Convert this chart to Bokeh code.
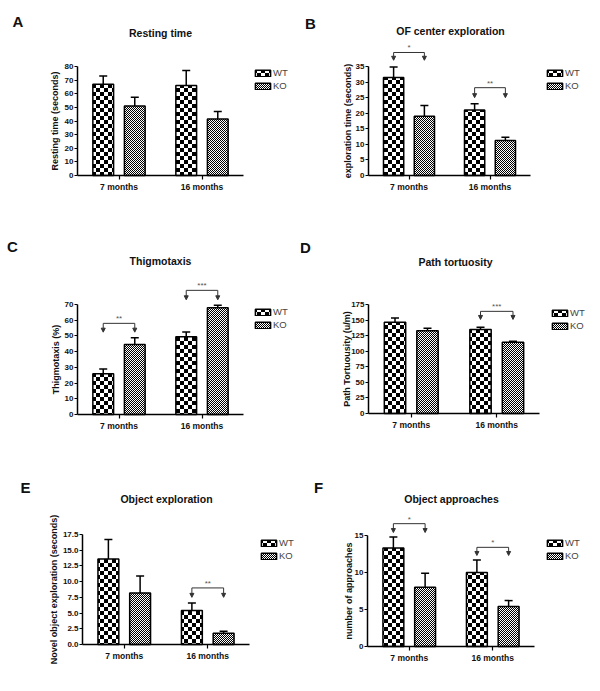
import math, zlib, struct, base64
from bokeh.plotting import figure
from bokeh.layouts import gridplot
from bokeh.models import (ColumnDataSource, Range1d, FixedTicker, SingleIntervalTicker,
                          Whisker, TeeHead, Arrow, NormalHead, Label, Legend, LegendItem,
                          ImageURLTexture, NumeralTickFormatter)
from bokeh.embed import file_html
from bokeh.resources import INLINE
from bokeh.core.properties import value

# ---------------- data ----------------
categories = ["7 months", "16 months"]
genotypes = ["WT", "KO"]

a_wt = [67, 66]
a_wt_err = [6, 11]
a_ko = [51, 41.5]
a_ko_err = [6.5, 5.5]

b_wt = [31.5, 21]
b_wt_err = [3.3, 2]
b_ko = [19, 11.2]
b_ko_err = [3.5, 1.1]
b_sig_cat = [0, 1]
b_sig_text = ["*", "**"]
b_sig_bracket = [39.5, 28.2]
b_sig_tip = [37, 25]

c_wt = [26, 49.5]
c_wt_err = [3, 3]
c_ko = [44.5, 68]
c_ko_err = [4.3, 1.5]
c_sig_cat = [0, 1]
c_sig_text = ["**", "***"]
c_sig_bracket = [58, 79]
c_sig_tip = [52.4, 73]

d_wt = [146.5, 135]
d_wt_err = [7, 3.5]
d_ko = [133, 114.5]
d_ko_err = [4, 1.5]
d_sig_cat = [1]
d_sig_text = ["***"]
d_sig_bracket = [164]
d_sig_tip = [151]

e_wt = [13.6, 5.4]
e_wt_err = [3.1, 1.2]
e_ko = [8.2, 1.8]
e_ko_err = [2.7, 0.3]
e_sig_cat = [1]
e_sig_text = ["**"]
e_sig_bracket = [9]
e_sig_tip = [7.5]

f_wt = [13.3, 10]
f_wt_err = [1.5, 1.7]
f_ko = [8, 5.4]
f_ko_err = [1.9, 0.8]
f_sig_cat = [0, 1]
f_sig_text = ["*", "*"]
f_sig_bracket = [16.6, 13.4]
f_sig_tip = [15.4, 12.3]

# ---------------- layout (page pixel positions) ----------------
col_x = [0, 300]
row_y = [0, 225, 455]
col_w = [300, 300]
row_h = [225, 230, 230]

FONT = "Liberation Sans"


def checker_url(cell, n=2):
    """Small PNG checkerboard used as the bar fill texture."""
    size = cell * n
    raw = b""
    for r in range(size):
        raw += b"\x00"
        for c in range(size):
            black = ((r // cell) + (c // cell)) % 2 == 0
            raw += bytes((0, 0, 0, 255)) if black else bytes((255, 255, 255, 255))

    def chunk(t, d):
        return struct.pack(">I", len(d)) + t + d + struct.pack(">I", zlib.crc32(t + d) & 0xffffffff)

    png = (b"\x89PNG\r\n\x1a\n" + chunk(b"IHDR", struct.pack(">IIBBBBB", size, size, 8, 6, 0, 0, 0))
           + chunk(b"IDAT", zlib.compress(raw)) + chunk(b"IEND", b""))
    return "data:image/png;base64," + base64.b64encode(png).decode()


wt_img = ImageURLTexture(url=checker_url(4))
ko_img = ImageURLTexture(url=checker_url(1))

panels = [
    dict(letter="A", title="Resting time", ylabel="Resting time (seconds)",
         wt=a_wt, wt_err=a_wt_err, ko=a_ko, ko_err=a_ko_err, sig=None,
         ymax=80, ystep=10, fmt="0",
         col=0, row=0, axl=77, axr=243, bottom=175, top=66,
         letter_pos=(17.5, 20.5), title_pos=(160, 32), ylabel_x=54, legend_pos=(253, 72)),
    dict(letter="B", title="OF center exploration", ylabel="exploration time (seconds)",
         wt=b_wt, wt_err=b_wt_err, ko=b_ko, ko_err=b_ko_err,
         sig=(b_sig_cat, b_sig_text, b_sig_bracket, b_sig_tip),
         ymax=35, ystep=5, fmt="0",
         col=1, row=0, axl=368, axr=530, bottom=175, top=66,
         letter_pos=(310, 23), title_pos=(450, 30), ylabel_x=347, legend_pos=(545, 72)),
    dict(letter="C", title="Thigmotaxis", ylabel="Thigmotaxis (%)",
         wt=c_wt, wt_err=c_wt_err, ko=c_ko, ko_err=c_ko_err,
         sig=(c_sig_cat, c_sig_text, c_sig_bracket, c_sig_tip),
         ymax=70, ystep=10, fmt="0",
         col=0, row=1, axl=77, axr=243, bottom=414, top=304,
         letter_pos=(12, 246), title_pos=(160, 260), ylabel_x=55, legend_pos=(253, 311)),
    dict(letter="D", title="Path tortuosity", ylabel="Path Tortuousity (u/m)",
         wt=d_wt, wt_err=d_wt_err, ko=d_ko, ko_err=d_ko_err,
         sig=(d_sig_cat, d_sig_text, d_sig_bracket, d_sig_tip),
         ymax=175, ystep=25, fmt="0",
         col=1, row=1, axl=368, axr=539, bottom=413, top=304,
         letter_pos=(305, 247), title_pos=(455, 261), ylabel_x=346, legend_pos=(550, 312)),
    dict(letter="E", title="Object exploration", ylabel="Novel object exploration (seconds)",
         wt=e_wt, wt_err=e_wt_err, ko=e_ko, ko_err=e_ko_err,
         sig=(e_sig_cat, e_sig_text, e_sig_bracket, e_sig_tip),
         ymax=17.5, ystep=2.5, fmt="0.0",
         col=0, row=2, axl=82, axr=249, bottom=644, top=534,
         letter_pos=(25, 487), title_pos=(166, 498), ylabel_x=53, legend_pos=(259, 542)),
    dict(letter="F", title="Object approaches", ylabel="number of approaches",
         wt=f_wt, wt_err=f_wt_err, ko=f_ko, ko_err=f_ko_err,
         sig=(f_sig_cat, f_sig_text, f_sig_bracket, f_sig_tip),
         ymax=15, ystep=5, fmt="0",
         col=1, row=2, axl=367, axr=534, bottom=646, top=535,
         letter_pos=(318, 487), title_pos=(451, 498), ylabel_x=348, legend_pos=(545, 542)),
]

OFFSET = 0.19
BAR_W = 0.25


def make_panel(P):
    ox, oy = col_x[P["col"]], row_y[P["row"]]
    W, H = col_w[P["col"]], row_h[P["row"]]
    ppx = (P["axr"] - P["axl"]) / 2.0
    ppy = (P["bottom"] - P["top"]) / P["ymax"]

    def gx(px):
        return 0.5 + (px - P["axl"]) / ppx

    def gy(py):
        return (P["bottom"] - py) / ppy

    p = figure(width=W, height=H, output_backend="svg", toolbar_location=None,
               x_range=Range1d(gx(ox), gx(ox + W)), y_range=Range1d(gy(oy + H), gy(oy)),
               min_border=0)
    p.outline_line_color = None
    p.grid.visible = False
    p.background_fill_color = "white"
    p.border_fill_color = "white"

    centers = [i + 1 for i in range(len(categories))]
    wt_x = [c - OFFSET for c in centers]
    ko_x = [c + OFFSET for c in centers]

    wt_src = ColumnDataSource(dict(x=wt_x, top=P["wt"],
                                   upper=[v + e for v, e in zip(P["wt"], P["wt_err"])]))
    ko_src = ColumnDataSource(dict(x=ko_x, top=P["ko"],
                                   upper=[v + e for v, e in zip(P["ko"], P["ko_err"])]))

    for src in (wt_src, ko_src):
        p.add_layout(Whisker(source=src, base="x", upper="upper", lower="top",
                             lower_head=None, line_width=1.5, line_color="black",
                             upper_head=TeeHead(size=8, line_width=1.5, line_color="black")))

    r_wt = p.vbar(x="x", top="top", width=BAR_W, source=wt_src, fill_color="white",
                  line_color="black", line_width=1.5, hatch_pattern=value("wt"),
                  hatch_extra={"wt": wt_img}, hatch_color="black")
    r_ko = p.vbar(x="x", top="top", width=BAR_W, source=ko_src, fill_color="white",
                  line_color="black", line_width=1.5, hatch_pattern=value("ko"),
                  hatch_extra={"ko": ko_img}, hatch_color="black")

    if P["sig"] is not None:
        cats, texts, br, tip = P["sig"]
        xl = [centers[c] - OFFSET for c in cats]
        xr = [centers[c] + OFFSET for c in cats]
        p.segment(x0=xl, y0=br, x1=xr, y1=br, line_color="#333333", line_width=1)
        for xs in (xl, xr):
            asrc = ColumnDataSource(dict(x=xs, yb=br, yt=tip))
            p.add_layout(Arrow(source=asrc, x_start="x", y_start="yb", x_end="x", y_end="yt",
                               line_color="#333333", line_width=1,
                               end=NormalHead(size=4, fill_color="#333333",
                                              line_color="#333333", line_width=1)))
        tsrc = ColumnDataSource(dict(x=[(a + b) / 2 for a, b in zip(xl, xr)], y=br, t=texts))
        p.text(x="x", y="y", text="t", source=tsrc, text_align="center",
               text_baseline="bottom", text_font=value(FONT), text_font_size="8px",
               text_color="#555555")

    xa = p.xaxis[0]
    xa.fixed_location = 0
    xa.ticker = FixedTicker(ticks=centers)
    xa.major_label_overrides = {c: lab for c, lab in zip(centers, categories)}
    xa.bounds = (0.5, 2.5)
    ya = p.yaxis[0]
    ya.fixed_location = 0.5
    ya.ticker = SingleIntervalTicker(interval=P["ystep"], num_minor_ticks=0)
    ya.bounds = (0, P["ymax"])
    ya.formatter = NumeralTickFormatter(format=P["fmt"])
    for ax in (xa, ya):
        ax.axis_line_width = 1.5
        ax.axis_line_color = "black"
        ax.major_tick_line_width = 1.2
        ax.major_tick_out = 3
        ax.major_tick_in = 0
        ax.minor_tick_line_color = None
        ax.major_label_text_font = FONT
        ax.major_label_text_font_style = "bold"
        ax.major_label_text_font_size = "8px"
        ax.major_label_text_color = "#111111"
        ax.major_label_standoff = 1
    xa.major_tick_out = 4
    xa.major_label_text_font_size = "8.5px"
    xa.major_label_standoff = 2

    lx, ly = P["legend_pos"]
    legend = Legend(items=[LegendItem(label=genotypes[0], renderers=[r_wt]),
                           LegendItem(label=genotypes[1], renderers=[r_ko])],
                    location=(lx - ox, (oy + H) - (ly + 19)),
                    glyph_width=19, glyph_height=8, label_height=8, label_width=10,
                    label_standoff=1, padding=0, margin=0, spacing=2,
                    label_text_font=FONT, label_text_font_size="9.5px",
                    border_line_alpha=0, background_fill_alpha=0)
    p.add_layout(legend)

    tx, ty = P["title_pos"]
    p.add_layout(Label(x=gx(tx), y=gy(ty), text=P["title"], text_align="center",
                       text_baseline="middle", text_font=FONT, text_font_style="bold",
                       text_font_size="10.5px", text_color="#111111"))
    lx2, ly2 = P["letter_pos"]
    p.add_layout(Label(x=gx(lx2), y=gy(ly2), text=P["letter"], text_align="center",
                       text_baseline="middle", text_font=FONT, text_font_style="bold",
                       text_font_size="15px", text_color="#111111"))
    p.add_layout(Label(x=gx(P["ylabel_x"]), y=P["ymax"] / 2, text=P["ylabel"], angle=math.pi / 2,
                       text_align="center", text_baseline="middle", text_font=FONT,
                       text_font_style="bold", text_font_size="9px", text_color="#111111"))
    return p


figs = [make_panel(P) for P in panels]
grid = gridplot([[figs[0], figs[1]], [figs[2], figs[3]], [figs[4], figs[5]]],
                toolbar_location=None)

open("out.html", "w").write(file_html(grid, INLINE))
